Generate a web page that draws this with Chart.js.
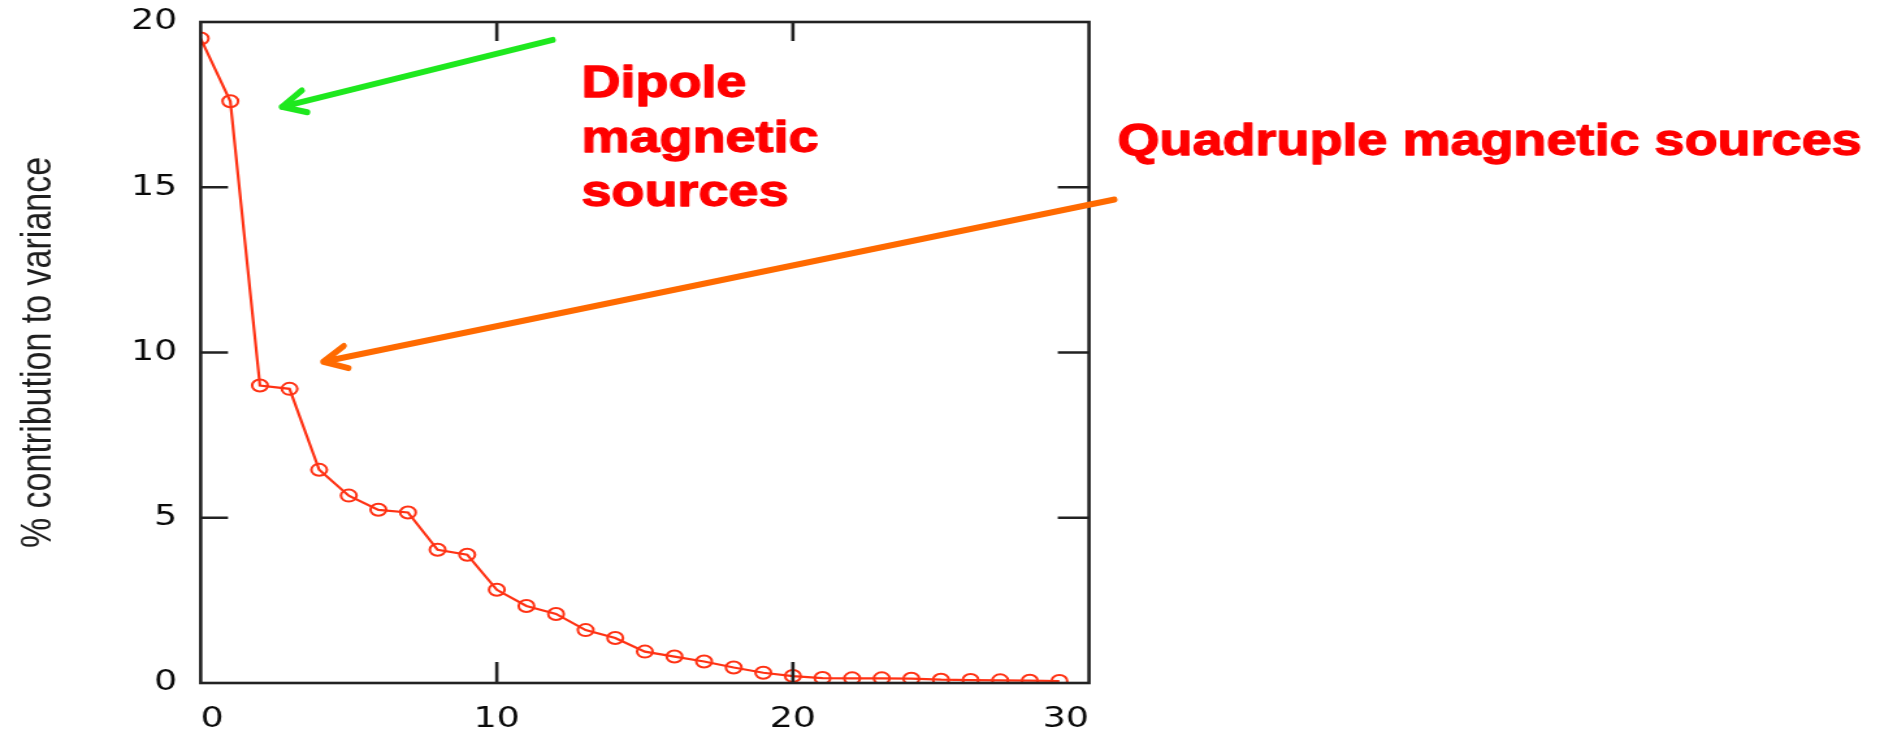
<!DOCTYPE html>
<html>
<head>
<meta charset="utf-8">
<title>% contribution to variance</title>
<script src="https://cdn.jsdelivr.net/npm/chart.js@4/dist/chart.umd.min.js"></script>
<style>
  html, body { margin: 0; padding: 0; background: #fff; overflow: hidden; }
  /* the plot is drawn on a narrower canvas and widened to the page */
  #chart { display: block; width: 1880px !important; height: 733px !important; }
</style>
</head>
<body>
<canvas id="chart" width="1446" height="733" style="width:1880px;height:733px"></canvas>
<script>
// component number and its share of the total variance (%)
const components = [0, 1, 2, 3, 4, 5, 6, 7, 8, 9, 10, 11, 12, 13, 14,
                    15, 16, 17, 18, 19, 20, 21, 22, 23, 24, 25, 26, 27, 28, 29];
const variance = [19.5, 17.6, 9.0, 8.9, 6.45, 5.67, 5.24, 5.16, 4.03, 3.88,
                  2.82, 2.33, 2.09, 1.6, 1.36, 0.95, 0.8, 0.65, 0.47, 0.31,
                  0.21, 0.15, 0.14, 0.14, 0.13, 0.1, 0.09, 0.08, 0.07, 0.06];
const xTicks = [0, 10, 20, 30];
const yTicks = [0, 5, 10, 15, 20];
const yTitle = '% contribution to variance';

// callouts (positions in data units)
const dipoleText = ['Dipole', 'magnetic', 'sources'];
const dipoleAt = {x: 12.86, y: 17.74, step: 1.66};
const dipoleArrow = {from: [11.89, 19.46], to: [2.74, 17.43]};
const quadText = 'Quadruple magnetic sources';
const quadAt = {x: 30.96, y: 15.98};
const quadArrow = {from: [30.86, 14.63], to: [4.14, 9.72]};

const canvas = document.getElementById('chart');
const S = 1880 / canvas.width;   // horizontal widening applied by css

const tickFont = {family: '"DejaVu Sans", Verdana, sans-serif', size: 28};

// box round the plot with short inward ticks on all four sides
const frame = {
  id: 'frame',
  afterDraw(chart) {
    const {ctx, chartArea: a, scales} = chart;
    const len = 21;
    ctx.save();
    ctx.strokeStyle = '#222';
    ctx.lineWidth = 2.6;
    ctx.strokeRect(a.left, a.top, a.right - a.left, a.bottom - a.top);
    ctx.beginPath();
    xTicks.slice(1, -1).forEach(v => {
      const px = scales.x.getPixelForValue(v);
      ctx.moveTo(px, a.bottom); ctx.lineTo(px, a.bottom - len);
      ctx.moveTo(px, a.top); ctx.lineTo(px, a.top + len - 2);
    });
    yTicks.slice(1, -1).forEach(v => {
      const py = scales.y.getPixelForValue(v);
      ctx.moveTo(a.left, py); ctx.lineTo(a.left + len, py);
      ctx.moveTo(a.right, py); ctx.lineTo(a.right - len - 3, py);
    });
    ctx.stroke();
    ctx.restore();
  }
};

function arrow(ctx, from, to, color) {
  const ang = Math.atan2(from[1] - to[1], from[0] - to[0]);
  ctx.strokeStyle = color;
  ctx.lineWidth = 6;
  ctx.lineCap = 'round';
  ctx.lineJoin = 'round';
  ctx.beginPath();
  ctx.moveTo(from[0], from[1]);
  ctx.lineTo(to[0], to[1]);
  [-0.45, 0.45].forEach(d => {
    ctx.moveTo(to[0] + 26 * Math.cos(ang + d), to[1] + 26 * Math.sin(ang + d));
    ctx.lineTo(to[0], to[1]);
  });
  ctx.stroke();
}

// heavy red caption, squeezed wide like the slide text
function label(ctx, text, p, k) {
  ctx.save();
  ctx.translate(p[0], p[1]);
  ctx.scale(k, 1);
  ctx.fillText(text, 0, 0);
  ctx.strokeText(text, 0, 0);
  ctx.restore();
}

// arrows and red captions, drawn unwidened
const callouts = {
  id: 'callouts',
  afterDraw(chart) {
    const {ctx, scales} = chart;
    const P = (vx, vy) => [scales.x.getPixelForValue(vx) * S, scales.y.getPixelForValue(vy)];
    ctx.save();
    ctx.scale(1 / S, 1);
    arrow(ctx, P(...dipoleArrow.from), P(...dipoleArrow.to), '#1ee81e');
    arrow(ctx, P(...quadArrow.from), P(...quadArrow.to), '#ff6a00');
    ctx.fillStyle = '#ff0000';
    ctx.strokeStyle = '#ff0000';
    ctx.lineWidth = 1.3;
    ctx.lineJoin = 'round';
    ctx.font = 'bold 45px "Liberation Sans", Arial, sans-serif';
    ctx.textBaseline = 'alphabetic';
    dipoleText.forEach((t, i) => {
      label(ctx, t, P(dipoleAt.x, dipoleAt.y - i * dipoleAt.step), 1.2);
    });
    label(ctx, quadText, P(quadAt.x, quadAt.y), 1.2);
    ctx.restore();
  }
};

new Chart(canvas, {
  type: 'line',
  data: {
    datasets: [{
      data: components.map((c, i) => ({x: c, y: variance[i]})),
      borderColor: '#ff3214',
      borderWidth: 2.2,
      pointStyle: 'circle',
      pointRadius: 6,
      pointBorderWidth: 2,
      pointBorderColor: '#ff3214',
      pointBackgroundColor: 'rgba(0,0,0,0)',
      tension: 0
    }]
  },
  options: {
    responsive: false,
    animation: false,
    devicePixelRatio: 1,
    layout: {padding: {top: 22, right: canvas.width - 1089 / S, left: 0, bottom: 0}},
    plugins: {legend: {display: false}, tooltip: {enabled: false}},
    scales: {
      x: {
        type: 'linear',
        min: 0, max: 30,
        afterBuildTicks: s => { s.ticks = xTicks.map(v => ({value: v})); },
        afterFit: s => { s.height = 50; },
        grid: {display: false, drawTicks: false},
        border: {display: false},
        ticks: {align: 'inner', padding: 20, color: '#0a0a0a', font: tickFont, maxRotation: 0}
      },
      y: {
        type: 'linear',
        min: 0, max: 20,
        afterBuildTicks: s => { s.ticks = yTicks.map(v => ({value: v})); },
        afterFit: s => { s.width = 200.7 / S; s.paddingTop = 0; s.paddingBottom = 0; },
        grid: {display: false, drawTicks: false},
        border: {display: false},
        ticks: {padding: 18, color: '#0a0a0a', font: tickFont},
        title: {
          display: true,
          text: yTitle,
          color: '#1e1e1e',
          padding: {top: 9, bottom: 0},
          font: {family: '"Liberation Sans", Arial, sans-serif', size: 34}
        }
      }
    }
  },
  plugins: [frame, callouts]
});
</script>
</body>
</html>
